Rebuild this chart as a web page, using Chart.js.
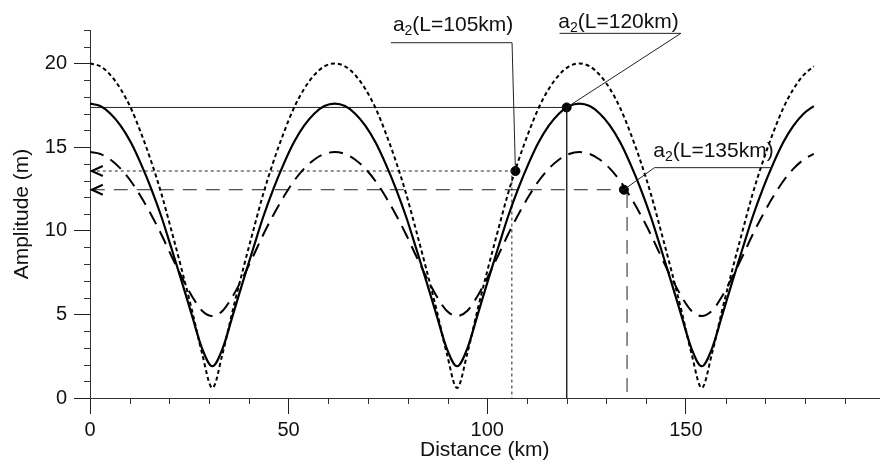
<!DOCTYPE html>
<html>
<head>
<meta charset="utf-8">
<script src="https://cdn.jsdelivr.net/npm/chart.js@4.4.0/dist/chart.umd.min.js"></script>
<style>
  html, body { margin: 0; padding: 0; background: #fff; }
  #wrap { width: 885px; height: 476px; }
</style>
</head>
<body>
<div id="wrap"><canvas id="chart" width="885" height="476"></canvas></div>
<script>
// === data ===
const distance = [0, 2.6, 5.1, 7.7, 10.3, 12.8, 15.4, 18, 20.5, 23.1, 25.7, 28.2, 30.8, 33.4, 35.9, 38.5, 41.1, 43.6, 46.2, 48.8, 51.3, 53.9, 56.5, 59,
  61.6, 64.2, 66.7, 69.3, 71.9, 74.4, 77, 79.6, 82.1, 84.7, 87.3, 89.8, 92.4, 95, 97.5, 100.1, 102.7, 105.2, 107.8, 110.4, 112.9, 115.5, 118.1, 120.6,
  123.2, 125.8, 128.3, 130.9, 133.5, 136, 138.6, 141.2, 143.7, 146.3, 148.9, 151.4, 154, 156.6, 159.1, 161.7, 164.3, 166.8, 169.4, 172, 174.5, 177.1, 179.7, 182.2];

// solid curve (L=120km)
const ampSolid = [17.6, 17.45, 17.01, 16.28, 15.27, 14.01, 12.52, 10.82, 8.95, 6.96, 4.91, 2.97, 1.9, 2.97, 4.91, 6.96, 8.95, 10.82, 12.52, 14.01, 15.27, 16.28, 17.01, 17.45,
  17.6, 17.45, 17.01, 16.28, 15.27, 14.01, 12.52, 10.82, 8.95, 6.96, 4.91, 2.97, 1.9, 2.97, 4.91, 6.96, 8.95, 10.82, 12.52, 14.01, 15.27, 16.28, 17.01, 17.45,
  17.6, 17.45, 17.01, 16.28, 15.27, 14.01, 12.52, 10.82, 8.95, 6.96, 4.91, 2.97, 1.9, 2.97, 4.91, 6.96, 8.95, 10.82, 12.52, 14.01, 15.27, 16.28, 17.01, 17.45];

// dotted curve (L=105km)
const ampDotted = [20, 19.83, 19.32, 18.48, 17.32, 15.87, 14.15, 12.19, 10.01, 7.67, 5.21, 2.68, 0.6, 2.68, 5.21, 7.67, 10.01, 12.19, 14.15, 15.87, 17.32, 18.48, 19.32, 19.83,
  20, 19.83, 19.32, 18.48, 17.32, 15.87, 14.15, 12.19, 10.01, 7.67, 5.21, 2.68, 0.6, 2.68, 5.21, 7.67, 10.01, 12.19, 14.15, 15.87, 17.32, 18.48, 19.32, 19.83,
  20, 19.83, 19.32, 18.48, 17.32, 15.87, 14.15, 12.19, 10.01, 7.67, 5.21, 2.68, 0.6, 2.68, 5.21, 7.67, 10.01, 12.19, 14.15, 15.87, 17.32, 18.48, 19.32, 19.83];

// dashed curve (L=135km)
const ampDashed = [14.7, 14.59, 14.26, 13.71, 12.96, 12.04, 10.96, 9.76, 8.49, 7.22, 6.07, 5.22, 4.9, 5.22, 6.07, 7.22, 8.49, 9.76, 10.96, 12.04, 12.96, 13.71, 14.26, 14.59,
  14.7, 14.59, 14.26, 13.71, 12.96, 12.04, 10.96, 9.76, 8.49, 7.22, 6.07, 5.22, 4.9, 5.22, 6.07, 7.22, 8.49, 9.76, 10.96, 12.04, 12.96, 13.71, 14.26, 14.59,
  14.7, 14.59, 14.26, 13.71, 12.96, 12.04, 10.96, 9.76, 8.49, 7.22, 6.07, 5.22, 4.9, 5.22, 6.07, 7.22, 8.49, 9.76, 10.96, 12.04, 12.96, 13.71, 14.26, 14.59];

// marked points: L=105, L=120, L=135
const pointLabels = ['(L=105km)', '(L=120km)', '(L=135km)'];
const pointDist = [107.1, 120, 134.4];
const pointAmp = [13.57, 17.37, 12.45];
const dropDist = [106.2, 120, 135.2];
const dropTop = [13.3, 17.37, 12.2];

const xTicks = [0, 10, 20, 30, 40, 50, 60, 70, 80, 90, 100, 110, 120, 130, 140, 150, 160, 170, 180, 190];
const yTicks = [0, 1, 2, 3, 4, 5, 6, 7, 8, 9, 10, 11, 12, 13, 14, 15, 16, 17, 18, 19, 20, 21, 22];

// === helpers ===
const family = '"Liberation Sans", Arial, sans-serif';
const pts = (xs, ys) => xs.map((x, i) => ({ x: x, y: ys[i] }));
const seg = (x0, y0, x1, y1) => [{ x: x0, y: y0 }, { x: x1, y: y1 }];

function curve(ys, dash, width) {
  return {
    data: pts(distance, ys), showLine: true, borderColor: '#000', borderWidth: width,
    borderDash: dash, pointRadius: 0, cubicInterpolationMode: 'monotone', fill: false
  };
}
function guide(data, dash) {
  return { data: data, showLine: true, borderColor: '#222', borderWidth: 1, borderDash: dash, pointRadius: 0, fill: false };
}

// label anchors and leader lines (data units)
const notes = [
  { at: [76.25, 21.94], path: [[75.75, 21.24], [106.25, 21.24], [pointDist[0], pointAmp[0]]] },
  { at: [117.9, 22.1], path: [[118.2, 21.8], [148.75, 21.8], [pointDist[1], pointAmp[1]]] },
  { at: [141.8, 14.42], path: [[171.7, 13.77], [142.1, 13.77], [pointDist[2], pointAmp[2]]] }
];

const annotate = {
  id: 'annotate',
  afterDatasetsDraw(chart) {
    const ctx = chart.ctx, xs = chart.scales.x, ys = chart.scales.y;
    const area = chart.chartArea;
    ctx.save();

    // minor ticks
    ctx.strokeStyle = '#333';
    ctx.lineWidth = 1;
    ctx.beginPath();
    xTicks.filter(v => v % 50 !== 0).forEach(v => {
      const px = Math.round(xs.getPixelForValue(v)) + 0.5;
      ctx.moveTo(px, area.bottom); ctx.lineTo(px, area.bottom + 6);
    });
    yTicks.filter(v => v % 5 !== 0).forEach(v => {
      const py = Math.round(ys.getPixelForValue(v)) + 0.5;
      ctx.moveTo(area.left - 6, py); ctx.lineTo(area.left, py);
    });
    ctx.stroke();

    // arrow heads on the read-off lines
    ctx.strokeStyle = '#000';
    ctx.lineWidth = 2;
    [pointAmp[0], pointAmp[2]].forEach(a => {
      const tx = xs.getPixelForValue(0.2), ty = ys.getPixelForValue(a);
      ctx.beginPath();
      ctx.moveTo(tx + 12, ty - 5); ctx.lineTo(tx + 1, ty); ctx.lineTo(tx + 12, ty + 5);
      ctx.stroke();
    });

    // leader lines
    ctx.strokeStyle = '#222';
    ctx.lineWidth = 1;
    notes.forEach(n => {
      ctx.beginPath();
      n.path.forEach((p, i) => {
        const px = xs.getPixelForValue(p[0]), py = ys.getPixelForValue(p[1]);
        if (i === 0) ctx.moveTo(px, py); else ctx.lineTo(px, py);
      });
      ctx.stroke();
    });

    // labels a2(L=...)
    ctx.fillStyle = '#111';
    ctx.textBaseline = 'alphabetic';
    ctx.textAlign = 'left';
    notes.forEach((n, i) => {
      let x = xs.getPixelForValue(n.at[0]);
      const y = ys.getPixelForValue(n.at[1]);
      ctx.font = '21px ' + family;
      ctx.fillText('a', x, y);
      x += ctx.measureText('a').width;
      ctx.font = '14px ' + family;
      ctx.fillText('2', x, y + 4);
      x += ctx.measureText('2').width;
      ctx.font = '21px ' + family;
      ctx.fillText(pointLabels[i], x, y);
    });
    ctx.restore();
  }
};

new Chart(document.getElementById('chart'), {
  type: 'scatter',
  data: {
    datasets: [
      curve(ampDotted, [4, 3], 2),
      curve(ampDashed, [14, 8], 2),
      curve(ampSolid, [], 2.2),
      guide([{ x: 0, y: pointAmp[1] }, { x: pointDist[1], y: pointAmp[1] }, { x: dropDist[1], y: 0 }], []),
      guide(seg(0.2, pointAmp[0], pointDist[0], pointAmp[0]), [3, 3]),
      guide(seg(dropDist[0], dropTop[0], dropDist[0], 0), [3, 3]),
      guide(seg(0.2, pointAmp[2], pointDist[2], pointAmp[2]), [14, 9]),
      guide(seg(dropDist[2], dropTop[2], dropDist[2], 0), [14, 9]),
      {
        data: pts(pointDist, pointAmp), showLine: false, pointRadius: 4.5,
        pointBackgroundColor: '#000', pointBorderColor: '#000', clip: false
      }
    ]
  },
  options: {
    responsive: false,
    animation: false,
    layout: { padding: { top: 30, right: 0, bottom: 0, left: 0 } },
    plugins: { legend: { display: false }, tooltip: { enabled: false } },
    scales: {
      x: {
        type: 'linear', min: 0, max: 198.75,
        afterBuildTicks: s => { s.ticks = xTicks.map(v => ({ value: v })); },
        afterFit: s => { s.height = 78; },
        grid: {
          drawOnChartArea: false, drawTicks: true, tickLength: 16,
          color: c => (c.tick && c.tick.value % 50 === 0) ? '#222' : 'rgba(0,0,0,0)'
        },
        border: { display: true, color: '#333', width: 1 },
        ticks: {
          padding: 4, color: '#111', autoSkip: false, maxRotation: 0,
          font: { family: family, size: 20 },
          callback: v => (v % 50 === 0 ? String(v) : '')
        },
        title: { display: true, text: 'Distance (km)', color: '#111', font: { family: family, size: 21 }, padding: { top: 0, bottom: 13 } }
      },
      y: {
        type: 'linear', min: 0, max: 22,
        afterBuildTicks: s => { s.ticks = yTicks.map(v => ({ value: v })); },
        afterFit: s => { s.width = 90; },
        grid: {
          drawOnChartArea: false, drawTicks: true, tickLength: 16,
          color: c => (c.tick && c.tick.value % 5 === 0) ? '#222' : 'rgba(0,0,0,0)'
        },
        border: { display: true, color: '#333', width: 1 },
        ticks: {
          padding: 7, color: '#111', autoSkip: false,
          font: { family: family, size: 20 },
          callback: v => (v % 5 === 0 ? String(v) : '')
        },
        title: { display: true, text: 'Amplitude (m)', color: '#111', font: { family: family, size: 21 }, padding: { top: 10, bottom: 0 } }
      }
    }
  },
  plugins: [annotate]
});
</script>
</body>
</html>
